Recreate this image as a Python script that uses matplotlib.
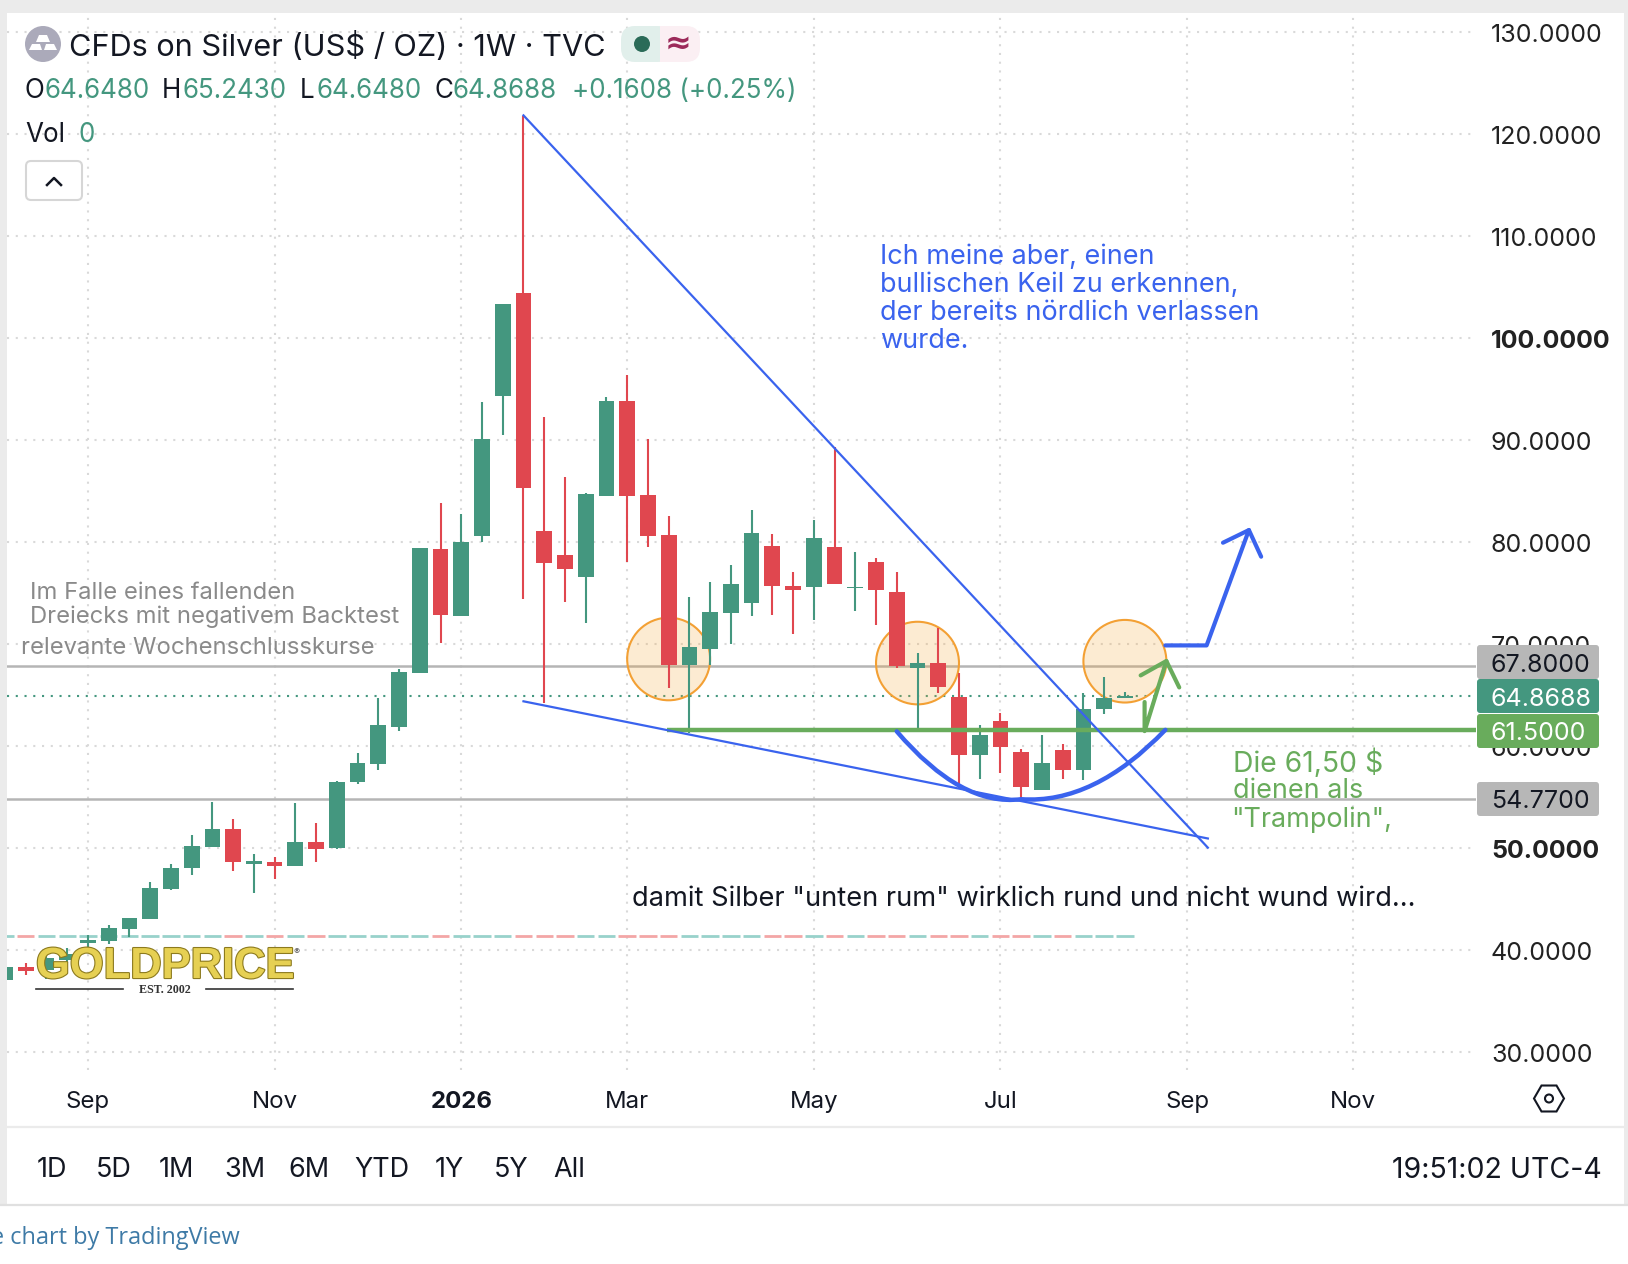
import matplotlib
matplotlib.use("Agg")
import matplotlib.pyplot as plt
import matplotlib.patheffects as pe
from matplotlib.patches import Rectangle, Circle, Ellipse, FancyBboxPatch, PathPatch, RegularPolygon, Polygon
from matplotlib.path import Path

plt.rcParams["font.family"] = ["Inter", "DejaVu Sans"]

W, H = 1628, 1264

# weekly candles
opens = [37.0, 38.3, 38.0, 39.0, 40.7, 40.85, 42.06, 43.04, 45.93, 47.96, 50.1, 51.87, 48.43, 48.62, 48.23,
         50.58, 49.99, 56.47, 58.2, 61.87, 67.1, 79.28, 72.7, 80.6, 94.3, 104.4, 81.04, 78.67, 76.56, 84.48,
         93.76, 84.56, 80.64, 67.88, 69.5, 73.04, 73.96, 79.56, 75.64, 75.56, 79.44, 75.45, 77.97, 75.03,
         67.6, 68.07, 64.8, 59.05, 62.38, 59.34, 55.62, 59.54, 57.58, 63.56, 64.648]
closes = [38.3, 37.9, 39.2, 39.6, 40.9, 42.14, 43.1, 46.08, 48.04, 50.19, 51.87, 48.55, 48.7, 48.23, 50.58,
          49.9, 56.47, 58.35, 61.98, 67.18, 79.36, 72.8, 79.96, 90.1, 103.3, 85.28, 77.88, 77.36, 84.64, 93.76,
          84.48, 80.56, 67.88, 69.72, 73.1, 75.84, 80.84, 75.64, 75.27, 80.32, 75.81, 75.58, 75.22, 67.8,
          68.07, 65.71, 59.05, 61.0, 59.83, 55.91, 58.26, 57.58, 63.56, 64.7, 64.8688]
highs = [38.3, 38.7, 39.8, 40.2, 41.4, 42.45, 43.1, 46.67, 48.43, 51.28, 54.5, 52.84, 49.4, 49.1, 54.4,
         52.45, 56.55, 59.33, 64.7, 67.5, 79.36, 83.76, 82.76, 93.7, 103.3, 121.77, 92.2, 86.36, 84.76, 94.16,
         96.36, 90.04, 82.56, 74.55, 76.08, 77.68, 83.08, 80.76, 77.0, 82.16, 89.28, 78.95, 78.36, 77.0,
         69.05, 71.56, 67.15, 62.05, 63.23, 59.7, 61.0, 60.13, 65.2, 66.76, 65.243]
lows = [36.6, 37.5, 37.1, 38.7, 40.2, 40.6, 41.2, 43.04, 45.85, 47.34, 50.1, 47.69, 45.58, 46.95, 48.23,
        48.6, 49.87, 56.2, 57.57, 61.48, 67.1, 70.05, 72.7, 80.0, 90.44, 74.4, 64.17, 74.1, 72.0, 84.48,
        78.03, 79.48, 65.66, 61.24, 67.88, 69.95, 72.7, 72.83, 70.95, 72.3, 75.81, 73.2, 71.8, 67.6,
        61.66, 65.13, 55.78, 56.7, 57.28, 54.8, 55.62, 56.7, 56.6, 63.1, 64.648]

price_ticks = [30, 40, 50, 60, 70, 80, 90, 100, 110, 120, 130]
bold_prices = [50, 100]
month_pos = [4, 13, 22, 30, 39, 48, 57, 65]
month_labels = ["Sep", "Nov", "2026", "Mar", "May", "Jul", "Sep", "Nov"]
range_labels = ["1D", "5D", "1M", "3M", "6M", "YTD", "1Y", "5Y", "All"]
range_x = [37, 96, 159, 224, 288, 354, 435, 494, 553]

last_close = 64.8688
support = 61.5
level_hi = 67.8
level_lo = 54.77

falling_x = [25, 58]
falling_y = [121.8, 50.0]
lower_x = [25, 58]
lower_y = [64.35, 50.9]
blue_x = [55.95, 57.94, 59.98]
blue_y = [69.83, 69.83, 81.14]
blue_head_x = [58.73, 59.98, 60.57]
blue_head_y = [79.9, 81.14, 78.53]
green_x = [54.95, 54.95, 56.0]
green_y = [64.28, 61.43, 68.3]
green_head_x = [54.76, 56.0, 56.62]
green_head_y = [66.89, 68.3, 65.71]
circle_x = [32, 44, 54]
circle_y = [68.5, 68.1, 68.28]

GREEN = "#44977F"
RED = "#E0474F"
BLUE = "#3A63EE"
LINE_GREEN = "#69AC5C"
GREY = "#B5B5B5"
INK = "#131722"

fig = plt.figure(figsize=(W / 100, H / 100), dpi=100, facecolor="white")

# chart pane: left 7, right 1476, top 14, bottom 1070 px
ax = fig.add_axes([7 / W, 1 - 1070 / H, (1476 - 7) / W, (1070 - 14) / H])
ax.set_xlim(0.096, 70.93)
ax.set_ylim(28.2, 131.74)
ax.set_facecolor("white")
for s in ax.spines.values():
    s.set_visible(False)
ax.set_xticks(month_pos)
ax.set_yticks(price_ticks)
ax.tick_params(length=0, labelbottom=False, labelleft=False)
ax.grid(True, color="#D9D9D9", linestyle=(0, (1, 3.2)), linewidth=1.5)
ax.set_axisbelow(True)

idx = list(range(len(opens)))
colors = [GREEN if c >= o else RED for o, c in zip(opens, closes)]
ax.vlines(idx, lows, highs, colors=colors, linewidth=1.5, zorder=3)
ax.bar(idx, [abs(c - o) for o, c in zip(opens, closes)], bottom=[min(o, c) for o, c in zip(opens, closes)],
       width=0.76, color=colors, linewidth=0, zorder=3)

# zero volume bars end up as a dashed strip
vol_colors = ["#98D2CB" if c == GREEN else "#F3A6A6" for c in colors]
ax.hlines([41.3] * len(idx), [i - 0.42 for i in idx], [i + 0.42 for i in idx], colors=vol_colors, linewidth=2, zorder=2)

ax.axhline(level_hi, color=GREY, lw=1.8, zorder=2)
ax.axhline(level_lo, color=GREY, lw=1.8, zorder=2)
ax.axhline(last_close, color=GREEN, lw=1.5, linestyle=(0, (1, 3.2)), zorder=2)
ax.plot([31.9, 70.93], [support, support], color=LINE_GREEN, lw=3.2, zorder=4, solid_capstyle="butt")

ax.plot(falling_x, falling_y, color=BLUE, lw=1.6, zorder=5)
ax.plot(lower_x, lower_y, color=BLUE, lw=1.6, zorder=5)

# circles sit under the candles, over the level lines
for cx, cy in zip(circle_x, circle_y):
    ax.add_patch(Ellipse((cx, cy), 4.0, 8.1, facecolor="#F5A433", alpha=0.22, edgecolor="none", zorder=2.5))
    ax.add_patch(Ellipse((cx, cy), 4.0, 8.1, facecolor="none", edgecolor="#F3A034", lw=1.5, zorder=2.6))

# cup under the lows
cup = Path([(43, 61.4), (46.1, 54.0), (49, 54.75), (52.5, 54.24), (55.95, 61.55)],
           [Path.MOVETO, Path.CURVE3, Path.CURVE3, Path.CURVE3, Path.CURVE3])
ax.add_patch(PathPatch(cup, facecolor="none", edgecolor=BLUE, lw=3.2, capstyle="round", zorder=7))

ax.plot(blue_x, blue_y, color=BLUE, lw=3, zorder=7, solid_capstyle="round")
ax.plot(blue_head_x, blue_head_y, color=BLUE, lw=3, zorder=7, solid_capstyle="round")
ax.plot(green_x, green_y, color=LINE_GREEN, lw=3, zorder=7, solid_capstyle="round")
ax.plot(green_head_x, green_head_y, color=LINE_GREEN, lw=3, zorder=7, solid_capstyle="round")

# everything around the pane, in pixels
ov = fig.add_axes([0, 0, 1, 1], facecolor="none")
ov.set_xlim(0, W)
ov.set_ylim(H, 0)
ov.axis("off")


def px_y(p):
    return 848.3 - (p - 50) * 10.2


def txt(x, y, s, size, color=INK, ha="left", weight="normal", family=None, **kw):
    fam = family if family else ["Inter", "DejaVu Sans"]
    # +3: va center sits a little high against the reference
    return ov.text(x, y + 3, s, fontsize=size * 0.72, color=color, ha=ha, va="center", fontweight=weight, family=fam, **kw)


# page strips
ov.add_patch(Rectangle((0, 0), W, 13, color="#EBEBEB", lw=0))
ov.add_patch(Rectangle((0, 0), 7, 1205, color="#EBEBEB", lw=0))
ov.add_patch(Rectangle((1624, 0), 4, 1205, color="#EBEBEB", lw=0))
ov.plot([0, W], [1205, 1205], color="#E0E0E0", lw=1.6)
ov.plot([7, 1624], [1127, 1127], color="#EBEBEB", lw=1.6)

# header
ov.add_patch(Ellipse((43, 44), 36, 36, color="#ABAABA", lw=0))
ov.add_patch(Polygon([(39, 35), (47, 35), (50, 42), (36, 42)], color="white", lw=0))
ov.add_patch(Polygon([(32, 44), (40, 44), (42, 50), (29, 50)], color="white", lw=0))
ov.add_patch(Polygon([(46, 44), (54, 44), (57, 50), (44, 50)], color="white", lw=0))
txt(69, 44, "CFDs on Silver (US$ / OZ) · 1W · TVC", 30.7)
ov.add_patch(FancyBboxPatch((633, 26), 67, 36, boxstyle="round,pad=0,rounding_size=14", color="#FBEFF3", lw=0))
ov.add_patch(FancyBboxPatch((621, 26), 50, 36, boxstyle="round,pad=0,rounding_size=14", color="#E1EFEB", lw=0))
ov.add_patch(Rectangle((660, 26), 14, 36, color="#FBEFF3", lw=0))
ov.add_patch(Ellipse((642, 44), 16, 16, color="#2A6B58", lw=0))
txt(678, 41, "≈", 32, color="#9C2A5A", ha="center", weight="bold", family=["DejaVu Sans"])

legend_parts = [(24, "O", INK), (44, "64.6480", GREEN), (162, "H", INK), (183, "65.2430", GREEN), (300, "L", INK),
                (317, "64.6480", GREEN), (434, "C", INK), (453, "64.8688", GREEN), (572, "+0.1608 (+0.25%)", GREEN)]
for lx, s, col in legend_parts:
    txt(lx, 87.5, s, 26, color=col)
txt(25, 131.5, "Vol", 26)
txt(78, 131.5, "0", 26, color=GREEN)
ov.add_patch(FancyBboxPatch((26, 161), 56, 39, boxstyle="round,pad=0,rounding_size=5", facecolor="white",
                            edgecolor="#D6D6D6", lw=1.5))
ov.plot([47, 54, 61], [185, 178, 185], color=INK, lw=1.8)

# price scale
for p in price_ticks:
    txt(1491, px_y(p), f"{p}.0000", 25, color="#222222", weight="bold" if p in bold_prices else "normal")

tag_y = [662, 696, 731, 799]
tag_bg = ["#B7B7B7", GREEN, LINE_GREEN, "#B7B7B7"]
tag_fg = [INK, "white", "white", INK]
tag_text = ["67.8000", "64.8688", "61.5000", "54.7700"]
for y, bg, fg, s in zip(tag_y, tag_bg, tag_fg, tag_text):
    ov.add_patch(FancyBboxPatch((1477, y - 17), 122, 34, boxstyle="round,pad=0,rounding_size=3", color=bg, lw=0, zorder=4))
    txt(1491, y, s, 25, color=fg, zorder=5)

# time scale
for pos, s in zip(month_pos, month_labels):
    txt(5 + 20.74 * pos, 1099, s, 24, ha="center", weight="bold" if s == "2026" else "normal")
ov.add_patch(RegularPolygon((1549, 1098.5), 6, radius=15, orientation=0.5236, facecolor="none", edgecolor=INK, lw=1.5))
ov.add_patch(Circle((1549, 1098.5), 4, facecolor="none", edgecolor=INK, lw=1.5))

# range buttons
for rx, s in zip(range_x, range_labels):
    txt(rx, 1167, s, 27)
txt(1602, 1167, "19:51:02 UTC-4", 28.5, ha="right")
txt(-9, 1235, "e chart by TradingView", 23.5, color="#3E7AA6", family=["Open Sans", "DejaVu Sans"])

# drawings text
for y, s in zip([254, 282, 310, 338], ["Ich meine aber, einen", "bullischen Keil zu erkennen,",
                                       "der bereits nördlich verlassen", "wurde."]):
    txt(880, y, s, 27, color=BLUE)
txt(30, 590, "Im Falle eines fallenden", 23.8, color="#8A8A8A")
txt(30, 613.5, "Dreiecks mit negativem Backtest", 23.8, color="#8A8A8A")
txt(21, 645.5, "relevante Wochenschlusskurse", 23.8, color="#8A8A8A")
for x, y, s, sz in zip([1233, 1233, 1231], [760.5, 788.5, 816.5], ["Die 61,50 $", "dienen als", "\"Trampolin\","], [28.3, 27, 27]):
    txt(x, y, s, sz, color=LINE_GREEN)
txt(632, 896, "damit Silber \"unten rum\" wirklich rund und nicht wund wird...", 27.25)

# logo
logo = txt(36, 964, "GOLDPRICE", 43.5, color="#E6D053", weight="bold", family=["Liberation Sans", "DejaVu Sans"])
logo.set_path_effects([pe.withStroke(linewidth=1.6, foreground="#8C7A1E")])
txt(297, 949, "®", 9, color="#555555", ha="center")
ov.plot([36, 123], [989, 989], color="#333333", lw=1.2)
ov.plot([206, 293], [989, 989], color="#333333", lw=1.2)
txt(165, 987, "EST. 2002", 12, color="#333333", ha="center", weight="bold", family=["Liberation Serif", "DejaVu Serif"])

fig.savefig("out.png", dpi=100)
